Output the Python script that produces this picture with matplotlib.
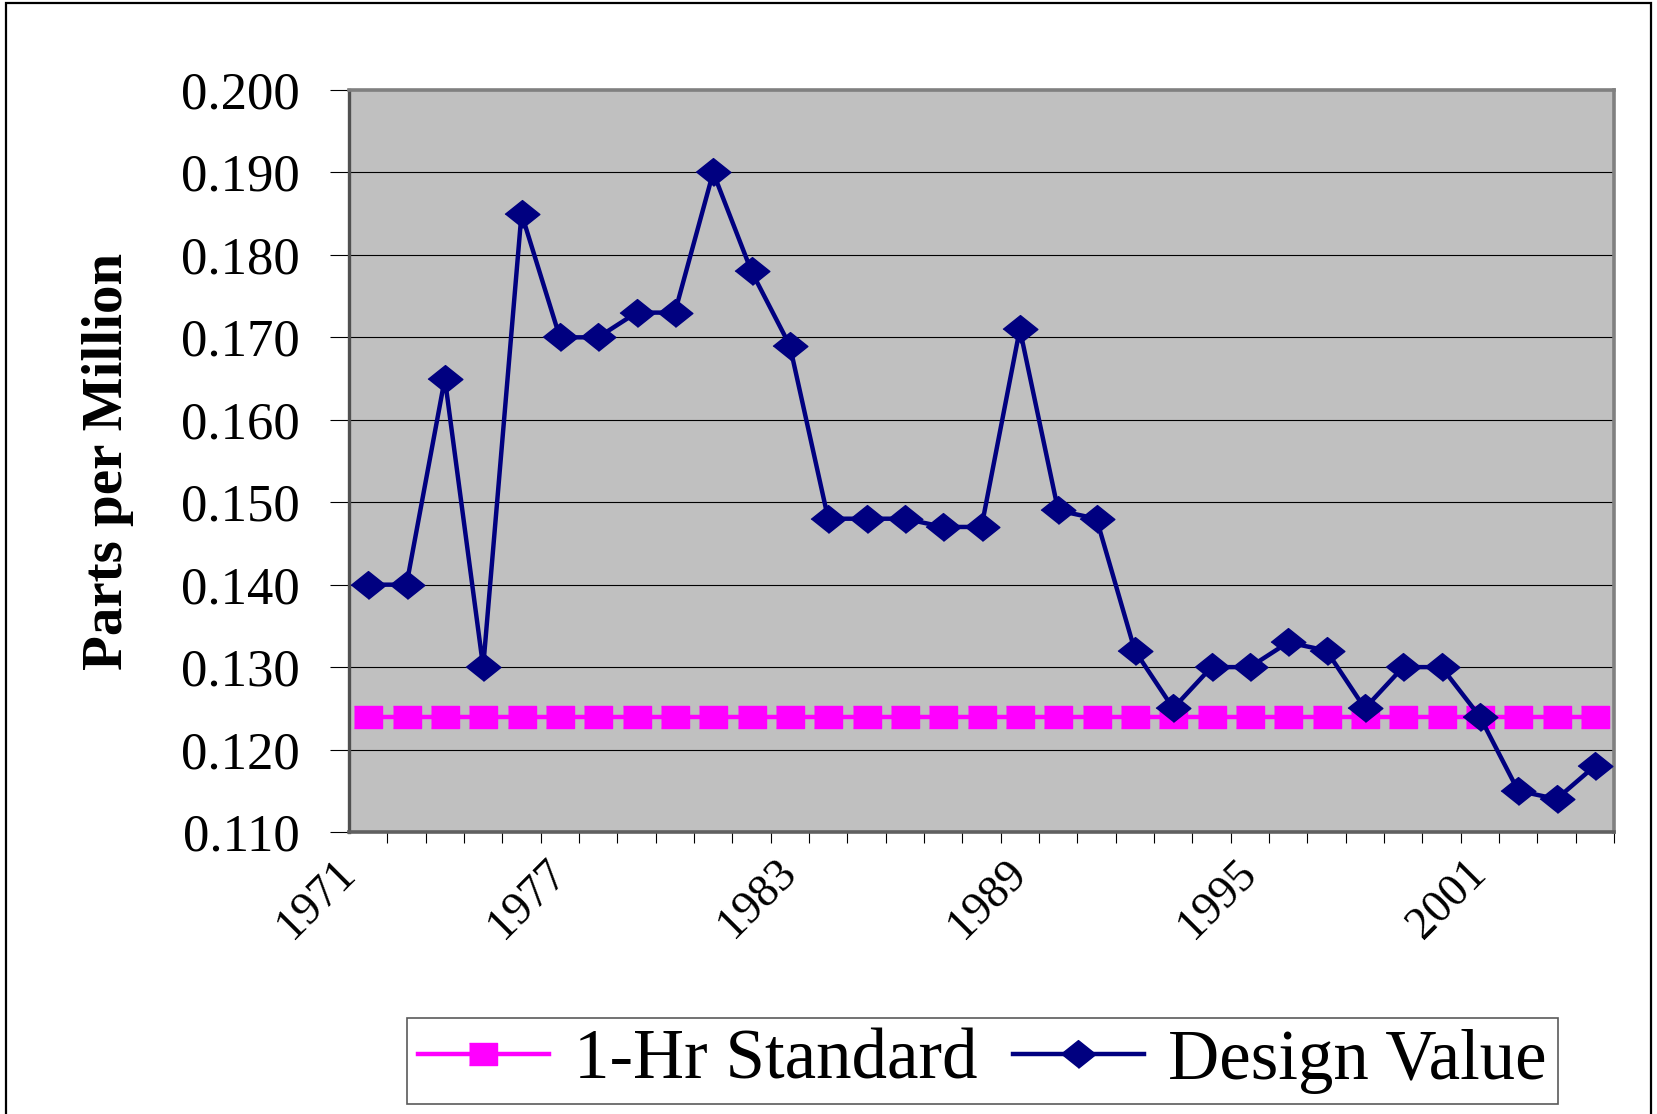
import numpy as np
import matplotlib
matplotlib.use("Agg")
from matplotlib import pyplot as plt
from matplotlib.patches import Rectangle

years = list(range(1971, 2004))
design_value = [0.140, 0.140, 0.165, 0.130, 0.185, 0.170, 0.170, 0.173, 0.173, 0.190,
                0.178, 0.169, 0.148, 0.148, 0.148, 0.147, 0.147, 0.171, 0.149, 0.148,
                0.132, 0.125, 0.130, 0.130, 0.133, 0.132, 0.125, 0.130, 0.130, 0.124,
                0.115, 0.114, 0.118]
standard = [0.124] * len(years)
y_ticks = [0.110, 0.120, 0.130, 0.140, 0.150, 0.160, 0.170, 0.180, 0.190, 0.200]
label_every = 6

plt.rcParams['font.family'] = ['Liberation Serif', 'DejaVu Serif']

W, H = 1657, 1114
fig = plt.figure(figsize=(W / 100, H / 100), dpi=100)

# axes placed in pixel terms of the reference
left, right, top, bottom = 349, 1614, 90, 832
ax = fig.add_axes([left / W, 1 - bottom / H, (right - left) / W, (bottom - top) / H])
ax.set_facecolor('#C0C0C0')

x = np.arange(len(years))
square = [(-1, -0.8), (1, -0.8), (1, 0.8), (-1, 0.8)]
diamond = [(-1, 0), (0, 0.8), (1, 0), (0, -0.8)]

ax.plot(x, standard, color='#FF00FF', lw=3.2, marker=square, markersize=20.5,
        mec='#FF00FF', mew=1, label='1-Hr Standard', zorder=3)
ax.plot(x, design_value, color='#000080', lw=3.2, marker=diamond, markersize=25,
        mec='#000080', mew=1, label='Design Value', zorder=4)

ax.set_xlim(-0.5, len(years) - 0.5)
ax.set_ylim(y_ticks[0], y_ticks[-1])
ax.set_yticks(y_ticks)
ax.set_yticklabels(["%.3f" % v for v in y_ticks], fontsize=38)
ax.tick_params(axis='y', direction='out', length=13.5, width=0.8, pad=22, color='black')

# tick marks on category boundaries, labels a little left of them (as Excel drew it)
ax.set_xticks(np.arange(len(years) + 1) - 0.5, minor=True)
lab_idx = list(range(0, len(years), label_every))
lab_pos = [-0.5 if i == 0 else i - 1.0 for i in lab_idx]
ax.set_xticks(lab_pos)
ax.set_xticklabels([str(years[i]) for i in lab_idx], fontsize=33, rotation=45,
                   ha='right', va='center', rotation_mode='anchor')
ax.tick_params(axis='x', which='minor', direction='out', length=8, width=0.8, color='black')
ax.tick_params(axis='x', which='major', length=0, pad=25)

ax.grid(axis='y', color='black', lw=0.8)
ax.set_axisbelow(True)
for side in ['top', 'right', 'bottom']:
    ax.spines[side].set_color('#808080')
    ax.spines[side].set_linewidth(2.6)
ax.spines['bottom'].set_color('#606060')
ax.spines['left'].set_color('#505050')
ax.spines['left'].set_linewidth(2.4)

fig.text(108 / W, 1 - 461 / H, 'Parts per Million', rotation=90, ha='center', va='center',
         fontsize=41, fontweight='bold')

leg = fig.legend(loc='center', bbox_to_anchor=((407 + 1558) / 2 / W, 1 - 1061 / H), ncol=2,
                 fontsize=51, frameon=True, fancybox=False, shadow=False,
                 handlelength=1.85, handletextpad=0.35, columnspacing=0.5, borderpad=0.15,
                 borderaxespad=0)
leg.get_frame().set_edgecolor('#303030')
leg.get_frame().set_linewidth(1.2)

# outer chart frame
fig.patches.append(Rectangle((6 / W, -0.05), (1651 - 6) / W, 1.05 - 3 / H,
                             transform=fig.transFigure, fill=False, edgecolor='black', lw=1.6))

fig.savefig('out.png', dpi=100)
